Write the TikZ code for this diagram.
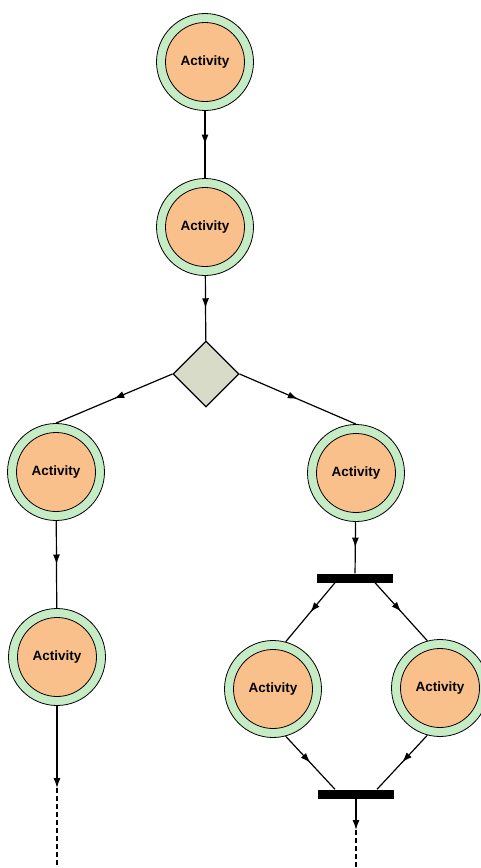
\documentclass[tikz,border=0pt]{standalone}
\usepackage{fontspec}
\setmainfont{Liberation Sans}
\usetikzlibrary{shapes.geometric,arrows.meta,decorations.markings}
\definecolor{actgreen}{RGB}{197,236,197}
\definecolor{actorange}{RGB}{250,192,140}
\definecolor{decgray}{RGB}{216,219,199}

\begin{document}
\begin{tikzpicture}[x=1pt,y=-1pt,
        flow/.style={line width=1.2pt,postaction={decorate},
            decoration={markings,mark=at position 0.5 with {\arrow{Latex[length=10pt,width=7pt]}}}},
        tip/.style={line width=1.2pt,-{Latex[length=10pt,width=7pt]}},
        bar/.style={rectangle,fill=black,minimum width=76pt,minimum height=9pt,inner sep=0pt}]
            \useasboundingbox (0,0) rectangle (480,868);
            \begin{scope}[every node/.style={circle,draw=black,fill=actgreen,line width=.8pt,
                    minimum size=97pt,inner sep=0pt,font=\bfseries\fontsize{13.5}{15}\selectfont,
                    path picture={\draw[fill=actorange,line width=.8pt] (path picture bounding box.center) circle (39.5pt);}}]
                \node (a1) at (205,62) {Activity};
                \node (a2) at (205,227) {Activity};
                \node (a3) at (56,472) {Activity};
                \node (a4) at (356,473) {Activity};
                \node (a5) at (57,657) {Activity};
                \node (a6) at (273,689) {Activity};
                \node (a7) at (440,688) {Activity};
            \end{scope}
            \node[diamond,draw=black,fill=decgray,line width=1.2pt,minimum width=66pt,minimum height=66pt,inner sep=0pt] (dec) at (206,374) {};
            \node[bar] (fork) at (355,578) {};
            \node[bar] (join) at (356,794) {};
            \coordinate (tl) at (57,788);
            \coordinate (el) at (57,868);
            \coordinate (tr) at (356,830);
            \coordinate (er) at (356,868);
            \draw (a1) edge [flow] (a2);
            \draw (a2) edge [flow] (dec);
            \draw (dec.west) edge [flow] (a3.north);
            \draw (dec.east) edge [flow] (a4.north);
            \draw (a3) edge [flow] (a5);
            \draw (a4) edge [flow] (fork);
            \draw ([xshift=-20pt]fork.south) edge [flow] (a6.75);
            \draw ([xshift=20pt]fork.south) edge [flow] (a7.105);
            \draw (a6.-75) edge [flow] ([xshift=-21pt]join.north);
            \draw (a7.-105) edge [flow] ([xshift=21pt]join.north);
            \draw (a5) edge [tip] (tl);
            \draw (join) edge [tip] (tr);
            \draw[line width=1.2pt,dash pattern=on 5pt off 3pt] (tl) -- (el);
            \draw[line width=1.2pt,dash pattern=on 5pt off 3pt] (tr) -- (er);
        \end{tikzpicture}
\end{document}
